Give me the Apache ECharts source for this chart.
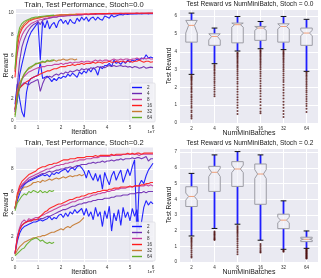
<!DOCTYPE html>
<html><head><meta charset="utf-8">
<script src="https://cdn.jsdelivr.net/npm/echarts@6/dist/echarts.min.js"></script>
<style>html,body{margin:0;padding:0;background:#fff}#c{width:321px;height:278px}</style>
</head><body><div id="c"></div>
<script>
const FONT = '"Liberation Sans", Arial, sans-serif';
const batchNames = ['2','4','8','16','32','64'];
const batchColors = ['#1414ff','#6c2ab2','#c2389c','#ff1c1c','#c67a30','#62ae2a'];
const iterations = [0,0.1,0.2,0.3,0.4,0.5,0.6,0.7,0.8,0.9,1,1.1,1.2,1.3,1.4,1.5,1.6,1.7,1.8,1.9,2,2.1,2.2,2.3,2.4,2.5,2.6,2.7,2.8,2.9,3,3.1,3.2,3.3,3.4,3.5,3.6,3.7,3.8,3.9,4,4.1,4.2,4.3,4.4,4.5,4.6,4.7,4.8,4.9,5,5.1,5.2,5.3,5.4,5.5,5.6,5.7,5.8,5.9,6];
const iterTicks = [0,1,2,3,4,5,6];
const rewardTicksTop = [0,2,4,6,8,10];
const rewardTicksBottom = [0,2,4,6,8];
const boxPositions = [1,2,3,4,5,6];

// ---- Stoch = 0.0 : train (upper) ----
const s0Train2 = [0.8,1.8,4.2,5.2,6.1,7.0,7.7,8.2,8.5,8.8, 9.1,5.6,9.2,8.6,9.3,8.5,8.9,9.1,8.6,9.2, 9.4,9.0,9.3,8.9,9.4,9.1,9.0,9.5,9.2,9.6, 9.3,9.6,9.2,9.5,9.6,9.3,9.6,9.4,9.3,9.7, 9.6,9.5,9.8,9.6,9.7,9.8,9.85,9.8,9.9,9.85, 9.9,9.88,9.92,9.9,9.93,9.9,9.92,9.93,9.9,9.93, 9.92];
const s0Train4 = [1.0,3.2,5.5,6.8,7.5,8.0,8.4,8.7,8.9,9.0, 9.2,8.9,9.3,9.4,9.45,9.5,9.55,9.6,9.58,9.65, 9.7,9.68,9.72,9.75,9.73,9.78,9.8,9.77,9.82,9.8, 9.84,9.85,9.82,9.86,9.88,9.85,9.88,9.9,9.87,9.89, 9.9,9.88,9.91,9.9,9.92,9.9,9.91,9.93,9.9,9.92, 9.93,9.91,9.93,9.94,9.92,9.93,9.95,9.93,9.94,9.95, 9.94];
const s0Train8 = [4.5,6.2,7.3,7.9,8.3,8.6,8.8,9.0,9.1,9.2, 9.3,9.35,9.4,9.5,9.48,9.55,9.6,9.62,9.6,9.68, 9.7,9.72,9.7,9.75,9.78,9.76,9.8,9.82,9.8,9.83, 9.85,9.84,9.86,9.88,9.86,9.88,9.9,9.88,9.9,9.91, 9.9,9.92,9.91,9.93,9.92,9.93,9.94,9.92,9.94,9.95, 9.94,9.95,9.94,9.96,9.95,9.95,9.96,9.95,9.96,9.96, 9.95];
const s0Train16 = [4.0,6.8,8.0,8.5,8.8,9.0,9.2,9.3,9.4,9.45, 9.5,9.55,9.6,9.65,9.66,9.7,9.72,9.75,9.77,9.78, 9.8,9.81,9.82,9.83,9.85,9.84,9.86,9.87,9.88,9.88, 9.89,9.9,9.89,9.91,9.9,9.92,9.91,9.92,9.93,9.92, 9.93,9.94,9.93,9.94,9.95,9.94,9.95,9.95,9.96,9.95, 9.96,9.96,9.95,9.97,9.96,9.97,9.96,9.97,9.97,9.98, 9.97];
const s0Train32 = [4.6,7.3,8.3,8.7,9.0,9.2,9.3,9.4,9.45,9.5, 9.55,9.6,9.62,9.65,9.7,9.68,9.72,9.75,9.76,9.78, 9.8,9.79,9.82,9.83,9.84,9.85,9.84,9.86];
const s0Train64 = [4.8,7.7,8.6,9.0,9.2,9.3,9.4,9.5,9.55,9.6, 9.62,9.65,9.68,9.7,9.72,9.74,9.76,9.78];
// ---- Stoch = 0.0 : test (lower) ----
const s0Test2 = [1.5,3.4,2.0,0.8,0.3,2.6,3.6,3.9,4.0,4.1, 4.2,5.4,3.9,4.0,4.1,3.9,3.6,3.9,3.7,4.0, 3.9,4.1,4.0,4.3,4.1,4.4,4.2,4.0,4.5,4.3, 4.6,4.4,4.8,4.5,4.9,4.7,4.2,5.0,4.8,5.1, 5.1,5.3,5.0,5.6,5.3,5.4,5.2,5.5,5.3,5.6, 5.4,5.6,5.5,5.7,5.6,5.8,5.7,6.1,5.8,5.9, 5.8];
const s0Test4 = [1.0,2.2,3.0,3.3,3.5,3.4,3.3,3.5,3.6,3.7, 3.8,2.7,3.4,3.9,4.0,4.1,4.0,4.2,4.3,4.2, 4.4,4.3,4.5,4.4,4.6,4.5,4.6,4.7,4.6,4.8, 4.7,4.8,4.7,4.9,4.8,4.9,5.0,4.9,5.0,4.9, 5.0,5.1,5.0,5.1,5.0,5.05,5.1,5.0,5.05,4.95, 5.0,4.9,5.0,4.95,4.85,4.9,5.0,4.85,4.9,4.95, 4.9];
const s0Test8 = [0.8,2.5,3.2,3.8,4.1,4.3,4.5,4.6,4.7,4.8, 4.9,4.9,5.0,5.0,5.1,5.1,5.1,5.2,5.2,5.2, 5.3,5.2,5.3,5.3,5.4,5.3,5.4,5.4,5.4,5.5, 5.4,5.5,5.5,5.4,5.5,5.6,5.5,5.6,5.5,5.6, 5.6,5.5,5.6,5.7,5.6,5.6,5.7,5.6,5.7,5.7, 5.6,5.7,5.7,5.8,5.7,5.7,5.8,5.7,5.8,5.7, 5.7];
const s0Test16 = [1.0,2.5,3.0,3.2,3.4,3.6,3.7,3.9,4.0,4.1, 4.2,4.3,4.4,4.5,4.6,4.6,4.7,4.8,4.8,4.9, 5.0,5.0,5.0,5.1,5.1,5.2,5.1,5.2,5.2,5.3, 5.2,5.3,5.3,5.3,5.4,5.3,5.4,5.4,5.3,5.4, 5.4,5.5,5.4,5.4,5.5,5.4,5.5,5.5,5.4,5.5, 5.5,5.4,5.5,5.5,5.6,5.5,5.4,5.5,5.5,5.4, 5.45];
const s0Test32 = [0.5,2.8,3.5,3.9,4.3,4.6,4.8,4.9,5.1,5.2, 5.3,5.3,5.4,5.4,5.5,5.5,5.5,5.6,5.5,5.6, 5.6,5.7,5.6,5.6,5.7,5.7,5.6,5.7];
const s0Test64 = [0.3,2.0,3.0,3.8,4.3,4.6,4.9,5.0,5.1,5.3, 5.3,5.4,5.5,5.4,5.6,5.5,5.6,5.6];

// ---- Stoch = 0.2 : train (upper) ----
const s2Train2 = [4.5,5.2,5.8,6.3,6.6,6.8,6.9,7.0,7.1,7.2, 7.3,7.4,7.5,7.4,7.5,7.3,7.6,7.5,7.7,7.6, 7.8,7.9,8.0,7.7,8.0,8.1,7.9,8.2,8.3,8.1, 7.8,7.2,7.9,7.4,7.0,7.6,6.9,7.5,6.2,7.7, 7.1,6.6,7.4,7.8,7.0,7.5,7.9,6.8,7.4,8.0, 7.4,8.2,8.8,2.0,6.6,7.0,6.7,7.4,7.9,8.2, 8.5];
const s2Train4 = [4.5,5.6,6.2,6.5,6.7,6.8,7.0,7.1,7.2,7.3, 7.4,7.5,7.6,7.6,7.7,7.8,7.7,7.8,7.9,7.9, 8.0,8.0,8.1,8.1,8.2,8.1,8.2,8.3,8.3,8.4, 8.4,8.4,8.5,8.5,8.6,8.5,8.6,8.6,8.7,8.6, 8.7,8.7,8.8,8.7,8.8,8.8,8.9,8.8,8.9,8.9, 8.9,9.0,8.9,9.0,9.0,8.9,9.0,9.1,8.7,8.9, 8.9];
const s2Train8 = [4.5,5.5,6.3,6.6,6.8,7.0,7.2,7.3,7.4,7.5, 7.6,7.7,7.8,7.9,8.0,8.0,8.1,8.2,8.3,8.3, 8.4,8.4,8.5,8.5,8.6,8.6,8.7,8.7,8.8,8.8, 8.8,8.9,8.9,8.9,9.0,9.0,9.0,9.1,9.1,9.1, 9.1,9.1,9.2,9.2,9.2,9.2,9.2,9.3,9.3,9.3, 9.3,9.3,9.3,9.3,9.2,9.3,9.3,9.3,9.3,9.3, 9.3];
const s2Train16 = [4.5,5.8,6.5,6.9,7.1,7.3,7.5,7.6,7.7,7.8, 8.0,8.1,8.2,8.2,8.3,8.4,8.4,8.5,8.5,8.6, 8.7,8.8,8.8,8.8,8.9,8.9,8.9,9.0,9.0,9.0, 9.0,9.1,9.1,9.1,9.1,9.2,9.1,9.2,9.2,9.2, 9.2,9.2,9.3,9.2,9.3,9.3,9.3,9.3,9.3,9.4, 9.3,9.4,9.3,9.4,9.4,9.3,9.4,9.4,9.4,9.4, 9.4];
const s2Train32 = [4.5,5.6,6.0,6.2,6.4,6.4,6.5,6.6,6.8,6.8, 6.9,6.8,7.0,6.9,7.0,7.1,7.0,7.1,7.2,7.1, 7.2,7.3,7.2,7.3,7.4,7.3,7.4,7.4,7.5,7.4, 7.5];
const s2Train64 = [4.3,5.0,5.3,5.6,5.8,5.7,6.0,5.9,6.1,6.0, 5.9,6.1,5.9,6.0,5.9,6.1,6.0,6.1];
// ---- Stoch = 0.2 : test (lower) ----
const s2Test2 = [0.5,1.6,2.3,2.7,2.9,3.0,3.1,3.2,3.3,3.3, 3.4,3.5,3.4,3.5,3.6,3.8,3.5,3.7,3.6,3.9, 4.0,3.7,4.1,3.8,4.2,4.0,4.4,4.1,4.3,4.5, 3.9,4.5,3.8,4.2,3.5,4.6,3.8,4.2,2.9,4.3, 3.6,4.7,2.5,4.1,3.4,4.4,3.0,4.6,3.7,4.2, 3.4,4.5,3.8,4.4,2.6,3.3,4.6,5.2,4.8,5.1, 4.9];
const s2Test4 = [0.5,2.0,2.7,3.0,3.2,3.3,3.4,3.4,3.5,3.5, 3.5,3.6,3.6,3.7,3.8,3.8,3.9,4.0,4.1,4.2, 4.3,4.4,4.4,4.5,4.6,4.7,4.7,4.8,4.9,4.9, 5.0,5.0,5.1,5.1,5.2,5.2,5.3,5.3,5.3,5.4, 5.4,5.4,5.5,5.5,5.6,5.6,5.6,5.7,5.7,5.7, 5.8,5.8,5.8,5.9,5.9,5.9,6.0,5.9,6.0,6.0, 6.0];
const s2Test8 = [0.5,2.0,2.8,3.3,3.5,3.3,3.6,3.5,3.6,3.7, 3.7,3.8,3.9,4.0,4.1,4.2,4.3,4.4,4.5,4.6, 4.7,4.8,4.8,4.9,5.0,5.1,5.1,5.2,5.3,5.3, 5.4,5.5,5.5,5.6,5.7,5.7,5.8,5.8,5.9,5.9, 6.0,6.0,6.1,6.1,6.2,6.2,6.3,6.3,6.3,6.4, 6.4,6.4,6.5,6.5,6.5,6.5,6.5,6.6,6.5,6.6, 6.5];
const s2Test16 = [0.5,1.8,2.6,3.0,3.2,3.3,3.4,3.4,3.5,3.5, 3.6,3.8,4.0,4.2,4.3,4.5,4.6,4.7,4.8,4.9, 4.9,5.0,5.1,5.2,5.3,5.3,5.4,5.5,5.5,5.6, 5.6,5.7,5.8,5.8,5.9,5.9,6.0,6.0,6.1,6.1, 6.1,6.2,6.2,6.3,6.3,6.3,6.4,6.4,6.4,6.4, 6.5,6.4,6.5,6.5,6.5,6.6,6.6,6.7,6.7,6.8, 6.8];
const s2Test32 = [0.4,0.8,1.1,1.3,1.5,1.6,1.7,1.8,1.9,1.9, 2.0,2.0,2.1,2.1,2.2,2.3,2.4,2.4,2.5,2.6, 2.7,2.6,2.8,2.9,2.8,3.0,3.1,3.2,3.3,3.5, 3.7];
const s2Test64 = [0.3,0.5,0.7,0.9,1.0,1.3,1.5,1.7,1.8,1.9, 1.8,1.6,1.7,1.5,1.4,1.5,1.4,1.5];

// ---- Box stats: [position, lowWhisker, q1, notchLow, median, notchHigh, q3, highWhisker]
const boxStatsS0 = [
  [1, 2.73, 4.54, 5.05, 5.48, 5.76, 5.76, 6.17],
  [2, 3.33, 4.36, 4.66, 4.86, 5.01, 5.01, 5.33],
  [3, 4.04, 4.50, 5.38, 5.52, 5.61, 5.61, 5.98],
  [4, 4.17, 4.64, 5.20, 5.33, 5.42, 5.42, 5.70],
  [5, 4.12, 4.54, 5.28, 5.42, 5.57, 5.57, 5.98],
  [6, 2.90, 4.36, 4.90, 5.05, 5.20, 5.33, 5.82]
];
const outliersS0_2 = [2.66,2.6,2.55,2.5,2.44,2.38,2.3,2.22,2.15,2.05,1.97,1.9,1.8,1.72,1.6,1.5,1.42,1.3,1.2,1.08,0.95,0.85,0.7,0.6,0.45,0.35,0.25];
const outliersS0_4 = [3.25,3.18,3.1,3.02,2.95,2.85,2.76,2.66,2.55,2.45,2.35,2.25,2.12,2.0,1.88,1.75,1.62,1.5];
const outliersS0_8 = [3.95,3.9,3.84,3.78,3.72,3.65,3.58,3.5,3.42,3.35,3.26,3.18,3.1,3.0,2.9,2.8,2.68,2.56,2.45,2.32,2.2,2.05,1.9,1.75,1.6,1.45,1.3,1.15,1.0,0.85,0.68,0.5];
const outliersS0_16 = [4.1,4.04,3.98,3.92,3.85,3.78,3.7,3.62,3.55,3.46,3.38,3.3,3.2,3.1,3.0,2.88,2.76,2.64,2.5,2.36,2.22,2.08,1.94,1.8,1.65,1.5,1.34,1.18,1.0,0.82,0.65,0.55];
const outliersS0_32 = [4.05,3.98,3.92,3.86,3.79,3.72,3.64,3.56,3.48,3.4,3.3,3.2,3.1,3.0,2.9,2.78,2.66,2.54,2.42,2.3,2.15,2.0,1.85,1.7,1.54,1.38,1.2,1.02,0.85,0.68,0.5,0.34];
const outliersS0_64 = [2.85,2.78,2.7,2.62,2.53,2.44,2.35,2.25,2.15,2.05,1.94,1.83,1.72,1.6,1.48,1.35,1.22,1.08,0.95,0.8,0.62];

const boxStatsS2 = [
  [1, 1.66, 3.54, 3.95, 4.18, 4.40, 4.80, 5.65],
  [2, 2.14, 4.50, 5.45, 5.72, 5.98, 6.10, 6.83],
  [3, 2.41, 4.82, 5.70, 5.93, 6.18, 6.40, 7.04],
  [4, 1.39, 3.68, 5.33, 5.61, 5.89, 6.25, 6.83],
  [5, 0.81, 2.13, 2.50, 2.67, 2.85, 3.05, 3.90],
  [6, 0.87, 1.30, 1.40, 1.45, 1.50, 1.58, 1.98]
];
const outliersS2_2 = [1.55,1.48,1.4,1.32,1.24,1.15,1.05,0.95,0.85,0.72,0.6,0.48,0.36,0.28];
const outliersS2_4 = [1.95,1.88,1.82,1.76,1.7,1.63,1.56,1.5,1.45,1.4];
const outliersS2_8 = [2.3,2.22,2.14,2.06,1.98,1.9,1.82,1.72,1.62,1.52,1.42,1.3,1.18,1.05,0.92,0.78,0.64,0.5];
const outliersS2_16 = [1.15,1.05,0.95,0.85,0.75,0.65,0.6];
const outliersS2_32 = [0.75,0.7,0.65];
const outliersS2_64 = [0.85,0.8,0.76,0.72,0.68,0.64,0.6,0.56,0.52,0.48,0.44,0.4,0.36,0.32,0.28,0.24,0.22];

// ---------------- build ----------------
const trainS0 = [s0Train2,s0Train4,s0Train8,s0Train16,s0Train32,s0Train64];
const testS0 = [s0Test2,s0Test4,s0Test8,s0Test16,s0Test32,s0Test64];
const trainS2 = [s2Train2,s2Train4,s2Train8,s2Train16,s2Train32,s2Train64];
const testS2 = [s2Test2,s2Test4,s2Test8,s2Test16,s2Test32,s2Test64];
const outS0 = [outliersS0_2,outliersS0_4,outliersS0_8,outliersS0_16,outliersS0_32,outliersS0_64];
const outS2 = [outliersS2_2,outliersS2_4,outliersS2_8,outliersS2_16,outliersS2_32,outliersS2_64];

const BG = '#eaeaf2';
const TICK = {fontSize: 4.6, color: '#333', fontFamily: FONT};
const NAME = {fontSize: 7, color: '#222', fontFamily: FONT};

function lineSeries(name, ys, gi, color) {
  return {type:'line', name, xAxisIndex:gi, yAxisIndex:gi,
    data: ys.map((v,i)=>[iterations[i], v]),
    showSymbol:false, symbol:'none', silent:true, animation:false, z:2,
    lineStyle:{color, width:1.1, opacity:0.92}, itemStyle:{color}};
}
function xIterAxis(gi) {
  return {gridIndex:gi, type:'value', min:0, max:6, interval:1,
    axisLine:{show:false}, axisTick:{show:false, customValues:iterTicks},
    axisLabel:{...TICK, margin:3, customValues:iterTicks},
    splitLine:{show:true, lineStyle:{color:'#fff', width:1}},
    name:'Iteration', nameLocation:'middle', nameGap:6.5, nameMoveOverlap:false, nameTextStyle:NAME};
}
function yRewardAxis(gi, min, max, ticks) {
  return {gridIndex:gi, type:'value', min, max,
    axisLine:{show:false}, axisTick:{show:false, customValues:ticks},
    axisLabel:{...TICK, margin:1.5, customValues:ticks},
    splitLine:{show:true, lineStyle:{color:'#fff', width:1}},
    name:'Reward', nameLocation:'middle', nameGap:5, nameMoveOverlap:false, nameTextStyle:NAME};
}
function xBoxAxis(gi) {
  return {gridIndex:gi, type:'value', min:0.5, max:6.5,
    axisLine:{show:false}, axisTick:{show:false, customValues:boxPositions},
    axisLabel:{...TICK, margin:3, customValues:boxPositions, formatter:v=>batchNames[Math.round(v)-1]},
    splitLine:{show:true, lineStyle:{color:'#fff', width:1}},
    name:'NumMiniBatches', nameLocation:'middle', nameGap:6.5, nameMoveOverlap:false, nameTextStyle:NAME};
}
function yBoxAxis(gi, max) {
  return {gridIndex:gi, type:'value', min:0, max, interval:1,
    axisLine:{show:false}, axisTick:{show:false},
    axisLabel:{...TICK, margin:3, showMaxLabel:false},
    splitLine:{show:true, lineStyle:{color:'#fff', width:1}},
    name:'Test Reward', nameLocation:'middle', nameGap:7.5, nameMoveOverlap:false, nameTextStyle:{...NAME, fontSize:6.6}};
}

function renderBox(params, api) {
  const pos = api.value(0);
  const lw = api.value(1), q1 = api.value(2), nlo = api.value(3), med = api.value(4),
        nhi = api.value(5), q3 = api.value(6), hw = api.value(7);
  const bw = api.size([0.5, 0])[0];
  const P = v => api.coord([pos, v]);
  const cx = P(med)[0];
  const y = v => P(v)[1];
  const l = cx - bw/2, r = cx + bw/2, il = cx - bw/4, ir = cx + bw/4;
  return {type:'group', children:[
    {type:'line', shape:{x1:cx, y1:y(q3), x2:cx, y2:y(hw)}, style:{stroke:'#1f1fff', lineWidth:1.8}},
    {type:'line', shape:{x1:cx, y1:y(q1), x2:cx, y2:y(lw)}, style:{stroke:'#1f1fff', lineWidth:1.8}},
    {type:'line', shape:{x1:cx-bw/4, y1:y(hw), x2:cx+bw/4, y2:y(hw)}, style:{stroke:'#111', lineWidth:1}},
    {type:'line', shape:{x1:cx-bw/4, y1:y(lw), x2:cx+bw/4, y2:y(lw)}, style:{stroke:'#111', lineWidth:1}},
    {type:'polygon', shape:{points:[[l,y(q1)],[r,y(q1)],[r,y(nlo)],[ir,y(med)],[r,y(nhi)],[r,y(q3)],[l,y(q3)],[l,y(nhi)],[il,y(med)],[l,y(nlo)]]},
      style:{stroke:'#9c9ca4', lineWidth:1, fill:'rgba(240,240,246,0.6)'}},
    {type:'line', shape:{x1:il, y1:y(med), x2:ir, y2:y(med)}, style:{stroke:'#f0a07a', lineWidth:1}}
  ]};
}

const series = [];
for (let i = 0; i < 6; i++) {
  series.push(lineSeries(batchNames[i], trainS0[i], 0, batchColors[i]));
  series.push(lineSeries(batchNames[i], testS0[i], 0, batchColors[i]));
}
for (let i = 0; i < 6; i++) {
  series.push(lineSeries(batchNames[i], trainS2[i], 2, batchColors[i]));
  series.push(lineSeries(batchNames[i], testS2[i], 2, batchColors[i]));
}
[[boxStatsS0, outS0, 1], [boxStatsS2, outS2, 3]].forEach(([stats, outs, gi]) => {
  series.push({type:'custom', xAxisIndex:gi, yAxisIndex:gi, data:stats, renderItem:renderBox,
    encode:{x:0, y:[1,2,3,4,5,6,7]}, silent:true, animation:false, z:3});
  const pts = [];
  outs.forEach((arr, k) => arr.forEach(v => pts.push([boxPositions[k], v])));
  series.push({type:'scatter', xAxisIndex:gi, yAxisIndex:gi, data:pts, symbol:'circle', symbolSize:2,
    itemStyle:{color:'#4a0c0c'}, silent:true, animation:false, z:4});
});

function legendAt(top) {
  return {data:batchNames, orient:'vertical', left:130, top, selectedMode:false,
    icon:'rect', itemWidth:10, itemHeight:1.4, itemGap:0, padding:[1.5,3,1.5,2],
    backgroundColor:'rgba(242,242,247,0.85)', borderColor:'#d6d6de', borderWidth:0.6, borderRadius:1,
    textStyle:{fontSize:4.6, lineHeight:6, color:'#333', fontFamily:FONT}};
}
function label(text, x, y, size, align) {
  return {type:'text', x, y, silent:true, style:{text, font:`${size}px ${FONT}`, fill:'#222',
    textAlign:align||'center', textVerticalAlign:'middle', align:align||'center', verticalAlign:'middle'}};
}

const chart = echarts.init(document.getElementById('c'), null, {renderer:'canvas', width:321, height:278});
chart.setOption({
  animation:false,
  backgroundColor:'#fff',
  grid:[
    {left:15, top:9, width:138, height:113, show:true, backgroundColor:BG, borderWidth:0, containLabel:false, outerBoundsMode:'none'},
    {left:180, top:9, width:138, height:114, show:true, backgroundColor:BG, borderWidth:0, containLabel:false, outerBoundsMode:'none'},
    {left:15, top:147.5, width:138, height:114.5, show:true, backgroundColor:BG, borderWidth:0, containLabel:false, outerBoundsMode:'none'},
    {left:180, top:148, width:138, height:114, show:true, backgroundColor:BG, borderWidth:0, containLabel:false, outerBoundsMode:'none'}
  ],
  xAxis:[xIterAxis(0), xBoxAxis(1), xIterAxis(2), xBoxAxis(3)],
  yAxis:[yRewardAxis(0, -0.15, 10.35, rewardTicksTop), yBoxAxis(1, 6.4), yRewardAxis(2, -0.24, 9.9, rewardTicksBottom), yBoxAxis(3, 7.27)],
  legend:[legendAt(83), legendAt(222)],
  graphic:[
    label('Train, Test Performance, Stoch=0.0', 84, 4.5, 7.6),
    label('Test Reward vs NumMiniBatch, Stoch = 0.0', 250, 4.5, 6.6),
    label('Train, Test Performance, Stoch=0.2', 84, 143, 7.6),
    label('Test Reward vs NumMiniBatch, Stoch = 0.2', 250, 143, 6.6),
    label('1e7', 151, 132, 4.3),
    label('1e7', 151, 271.5, 4.3)
  ],
  series
});
</script></body></html>
